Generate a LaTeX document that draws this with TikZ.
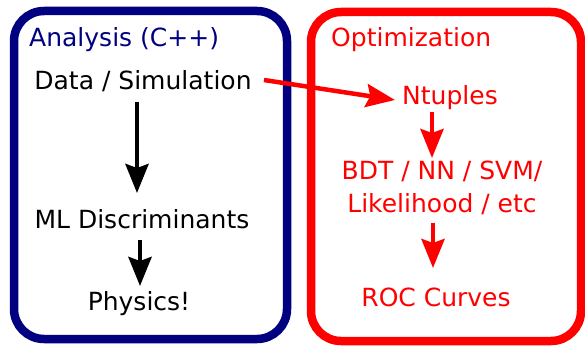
\documentclass[tikz,border=0pt]{standalone}
\usepackage{fontspec}
\setmainfont{DejaVu Sans}
\usetikzlibrary{arrows.meta}
\definecolor{navyc}{RGB}{0,0,128}
\definecolor{redc}{RGB}{255,0,0}
\tikzset{
  panel/.style={line width=8.5pt, rounded corners=30pt},
  lbl/.style={font=\fontsize{25}{33}\selectfont, inner sep=0pt, anchor=center},
  flow/.style={line width=4.5pt, -{Stealth[length=29pt,width=23pt,inset=4pt]}}
}
\begin{document}
\begin{tikzpicture}[x=1pt,y=-1pt]
\useasboundingbox (0,0) rectangle (585,345);
\draw[panel, navyc] (14,11) rectangle (287,339);
\draw[panel, redc] (311,12) rectangle (581,341);
% left texts
\node[lbl, text=navyc, anchor=west] (ana) at (29,40) {Analysis (C++)};
\node[lbl] (data) at (143,81) {Data / Simulation};
\node[lbl] (ml) at (142,219) {ML Discriminants};
\node[lbl] (phys) at (139,304) {Physics!};
% right texts
\node[lbl, text=redc, anchor=west] (opt) at (331,40) {Optimization};
\node[lbl, text=redc] (nt) at (450,98) {Ntuples};
\node[lbl, text=redc, align=center] (bdt) at (442,188) {BDT / NN / SVM/\\Likelihood / etc};
\node[lbl, text=redc] (roc) at (436,297) {ROC Curves};
% arrows
\coordinate (a1s) at (137,102); \coordinate (a1e) at (137,193);
\coordinate (a2s) at (140,240); \coordinate (a2e) at (140,286);
\coordinate (r1s) at (432,112); \coordinate (r1e) at (432,158);
\coordinate (r2s) at (433,223); \coordinate (r2e) at (433,268);
\coordinate (ds) at (264,80);
\coordinate (ne) at (395,100);
\draw[flow, black] (a1s) -- (a1e);
\draw[flow, black] (a2s) -- (a2e);
\draw[flow, redc] (r1s) -- (r1e);
\draw[flow, redc] (r2s) -- (r2e);
\draw[flow, redc] (ds) -- (ne);
\end{tikzpicture}
\end{document}
